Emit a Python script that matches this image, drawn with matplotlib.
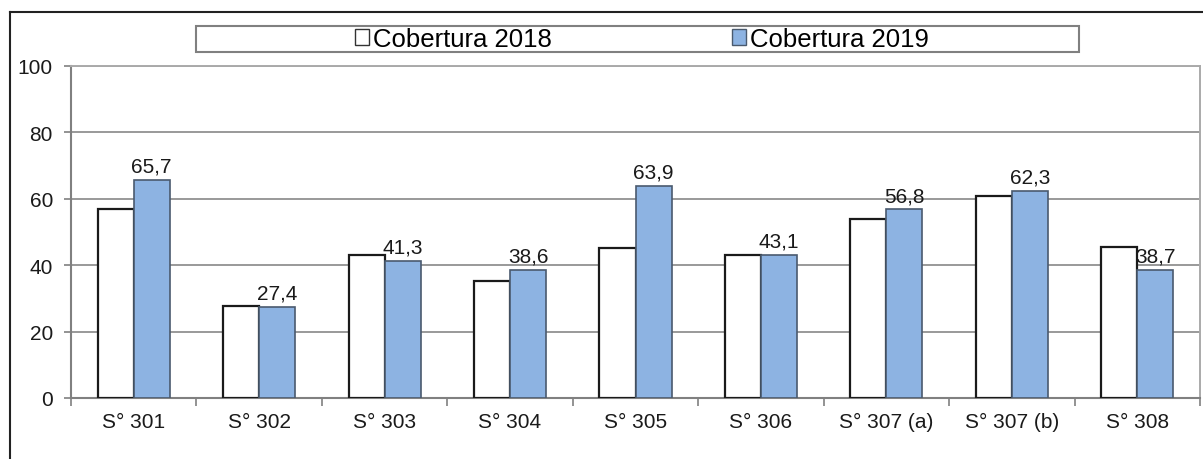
import numpy as np
import matplotlib
matplotlib.use("Agg")
import matplotlib.pyplot as plt
from matplotlib.patches import Patch, Rectangle
from matplotlib.lines import Line2D

plt.rcParams['font.family'] = ['Liberation Sans', 'DejaVu Sans']

# datos
sectores = ["S° 301", "S° 302", "S° 303", "S° 304", "S° 305",
            "S° 306", "S° 307 (a)", "S° 307 (b)", "S° 308"]
cobertura_2018 = [57.0, 27.7, 43.1, 35.3, 45.2, 43.0, 53.9, 60.9, 45.4]
cobertura_2019 = [65.7, 27.4, 41.3, 38.6, 63.9, 43.1, 56.8, 62.3, 38.7]
etiquetas_serie = ["Cobertura 2018", "Cobertura 2019"]
yticks = [0, 20, 40, 60, 80, 100]

W, H = 1203, 460
fig = plt.figure(figsize=(W / 100, H / 100), dpi=100)
ax = fig.add_axes([71 / W, 1 - 399 / H, (1200 - 71) / W, (399 - 67) / H])

x = np.arange(len(sectores))
w = 0.287
azul = "#8DB3E2"

ax.bar(x - w / 2, cobertura_2018, width=w, color="white", edgecolor="#1a1a1a", linewidth=1.6, zorder=3)
barras = ax.bar(x + w / 2, cobertura_2019, width=w, color=azul, edgecolor="#4a5a6e", linewidth=1.2, zorder=3)

# etiquetas solo sobre la serie 2019
for b, v in zip(barras, cobertura_2019):
    ax.annotate(f"{v:.1f}".replace(".", ","), (b.get_x() + b.get_width() / 2, v),
                xytext=(0, 3), textcoords="offset points", ha="center", va="bottom",
                fontsize=15, color="#1a1a1a", zorder=4)

ax.set_xlim(-0.5, len(sectores) - 0.5)
ax.set_ylim(0, 100)
ax.set_yticks(yticks)
ax.tick_params(axis="y", labelsize=15, length=5, width=1.2, color="#808080", pad=8, labelcolor="#1a1a1a")

# ticks entre categorias, etiquetas en el centro
ax.set_xticks(np.arange(len(sectores) + 1) - 0.5)
ax.set_xticklabels([])
ax.tick_params(axis="x", which="major", length=6, width=1.2, color="#808080")
ax.set_xticks(x, minor=True)
ax.set_xticklabels(sectores, minor=True)
ax.tick_params(axis="x", which="minor", length=0, labelsize=15, pad=10, labelcolor="#1a1a1a")

ax.grid(axis="y", color="#999999", linewidth=1.4, zorder=0)
for s in ["left", "bottom"]:
    ax.spines[s].set_color("#808080")
    ax.spines[s].set_linewidth(1.5)
for s in ["top", "right"]:
    ax.spines[s].set_color("#aaaaaa")
    ax.spines[s].set_linewidth(1.4)

# caja de la leyenda
fig.add_artist(Rectangle((196 / W, 1 - 53 / H), 883 / W, 26 / H, transform=fig.transFigure,
                         facecolor="white", edgecolor="#808080", linewidth=1.5))
handles = [Patch(facecolor="white", edgecolor="#333333", linewidth=1.0),
           Patch(facecolor=azul, edgecolor="#4a5a6e", linewidth=1.0)]
fig.legend(handles, etiquetas_serie, loc="center", bbox_to_anchor=(642 / W, 1 - 40 / H),
           ncol=2, frameon=False, fontsize=18.5, handlelength=0.55, handleheight=0.55,
           handletextpad=0.15, columnspacing=7.0, borderpad=0)

# marco exterior (recortado a la derecha y abajo)
fig.add_artist(Line2D([10 / W, 10 / W], [0, 1 - 13 / H], transform=fig.transFigure, color="#222222", linewidth=1.5))
fig.add_artist(Line2D([10 / W, 1], [1 - 13 / H, 1 - 13 / H], transform=fig.transFigure, color="#222222", linewidth=1.5))

fig.savefig("out.png", dpi=100)
